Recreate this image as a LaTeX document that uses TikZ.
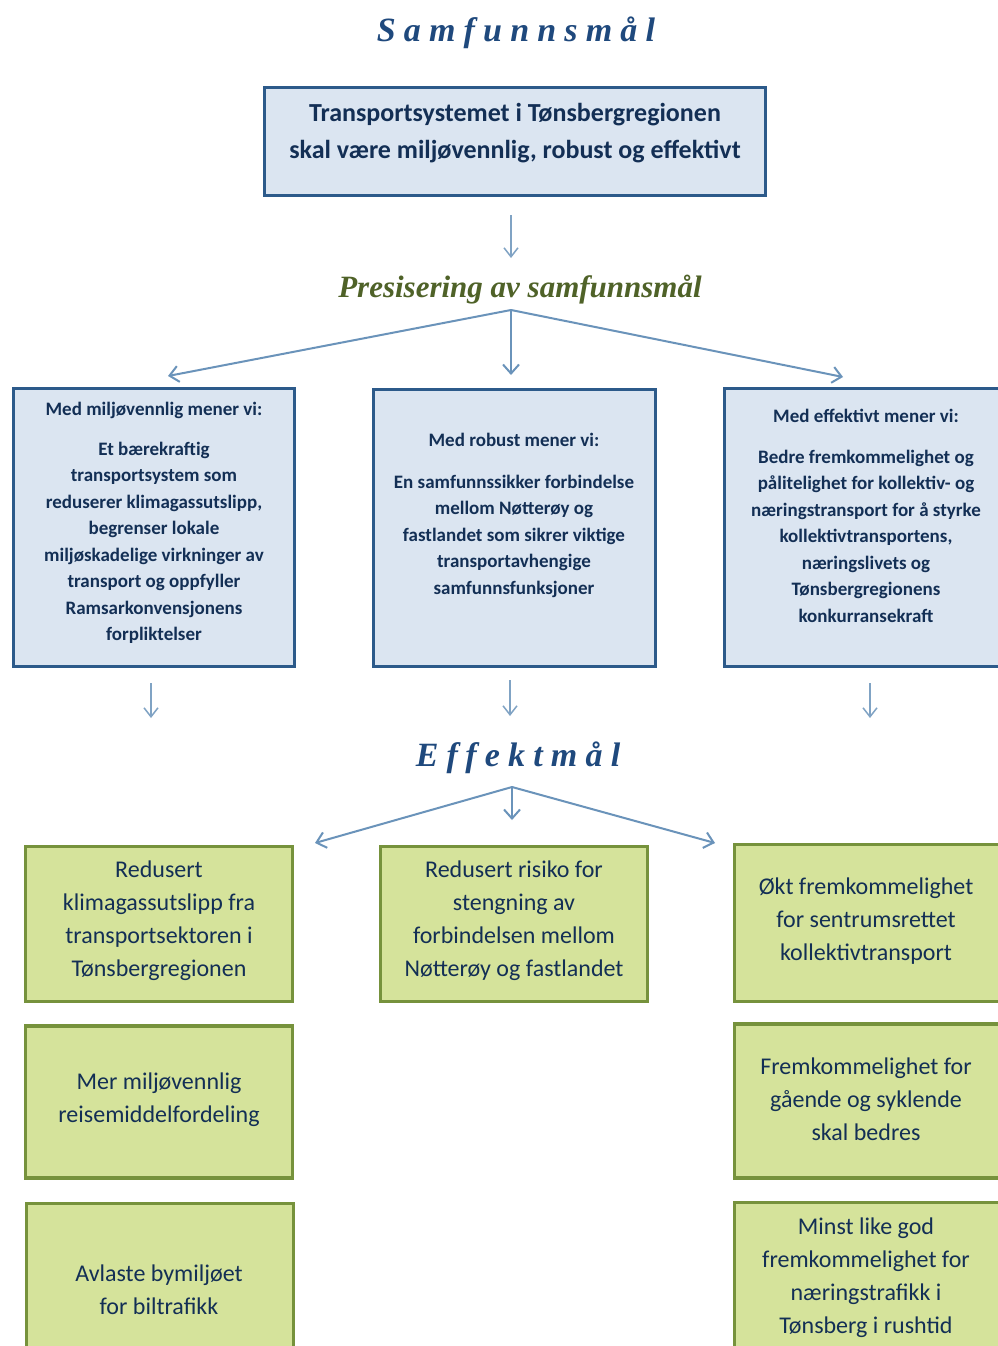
\documentclass[tikz,border=0pt]{standalone}
\usepackage{fontspec}
\setmainfont{Carlito}
\newfontfamily\headfont[LetterSpace=24]{Liberation Serif}
\newfontfamily\subfont{Liberation Serif}
\usetikzlibrary{arrows.meta}
\definecolor{titleblue}{HTML}{1F497D}
\definecolor{olivetxt}{HTML}{4F6228}
\definecolor{boxfill}{HTML}{DBE5F1}
\definecolor{boxline}{HTML}{2C5A8A}
\definecolor{navytxt}{HTML}{132F55}
\definecolor{greenfill}{HTML}{D5E39B}
\definecolor{greenline}{HTML}{76923C}
\definecolor{arrowblue}{HTML}{6A93BA}
\begin{document}
\begin{tikzpicture}[x=1pt,y=-1pt,
 bluebox/.style={draw=boxline,line width=3.5pt,fill=boxfill,inner sep=0pt},
 greenbox/.style={draw=greenline,line width=3.5pt,fill=greenfill,inner sep=0pt},
 bluetext/.style={text=navytxt,align=center,font=\bfseries\fontsize{19}{26.5}\selectfont,inner sep=0pt},
 greentext/.style={text=navytxt,align=center,font=\fontsize{24}{33}\selectfont,inner sep=0pt},
 headtext/.style={text=titleblue,font=\headfont\bfseries\itshape\fontsize{34}{38}\selectfont,inner sep=0pt},
 fork/.style={draw=arrowblue,line width=2pt,-{Straight Barb[length=9pt,width=16pt]}},
 downarr/.style={draw=arrowblue!85,line width=1.5pt,-{Straight Barb[length=9pt,width=14pt]}},
]
\clip (0,0) rectangle (998,1346);
\fill[white] (0,0) rectangle (998,1346);

% headings
\node[headtext] (title) at (516,33) {Samfunnsmål};
\node[text=olivetxt,font=\subfont\bfseries\itshape\fontsize{31}{36}\selectfont,inner sep=0pt] (pres) at (520,290) {Presisering av samfunnsmål};
\node[headtext] (effekt) at (518,758) {Effektmål};

% top box
\node[bluebox,minimum width=501pt,minimum height=108pt] (top) at (515,141.5) {};
\node[text=navytxt,align=center,font=\bfseries\fontsize{26}{37}\selectfont,inner sep=0pt] (toptxt) at (515,133.5)
 {Transportsystemet i Tønsbergregionen\\skal være miljøvennlig, robust og effektivt};

% blue boxes
\node[bluebox,minimum width=281pt,minimum height=278pt] (lb) at (154,527.5) {};
\node[bluebox,minimum width=282pt,minimum height=277pt] (mb) at (514.5,528) {};
\node[bluebox,minimum width=283pt,minimum height=278pt] (rb) at (866,527.5) {};

\node[bluetext] (lbt) at (154,523) {Med miljøvennlig mener vi:\\[13.5pt]
 Et bærekraftig\\transportsystem som\\reduserer klimagassutslipp,\\begrenser lokale\\miljøskadelige virkninger av\\transport og oppfyller\\Ramsarkonvensjonens\\forpliktelser};
\node[bluetext] (mbt) at (514,515) {Med robust mener vi:\\[15.5pt]
 En samfunnssikker forbindelse\\mellom Nøtterøy og\\fastlandet som sikrer viktige\\transportavhengige\\samfunnsfunksjoner};
\node[bluetext] (rbt) at (866,515.5) {Med effektivt mener vi:\\[14.5pt]
 Bedre fremkommelighet og\\pålitelighet for kollektiv- og\\næringstransport for å styrke\\kollektivtransportens,\\næringslivets og\\Tønsbergregionens\\konkurransekraft};

% green boxes
\node[greenbox,minimum width=267pt,minimum height=155pt] (gl1) at (159,924) {};
\node[greenbox,minimum width=267pt,minimum height=155pt] (gm1) at (514,924) {};
\node[greenbox,minimum width=267pt,minimum height=157pt] (gr1) at (868,923) {};
\node[greenbox,minimum width=267pt,minimum height=152pt] (gl2) at (159,1102) {};
\node[greenbox,minimum width=267pt,minimum height=154pt] (gr2) at (868,1101) {};
\node[greenbox,minimum width=267pt,minimum height=155pt] (gl3) at (160,1281) {};
\node[greenbox,minimum width=267pt,minimum height=155pt] (gr3) at (868,1280) {};

\node[greentext] (gl1t) at (159,921) {Redusert\\klimagassutslipp fra\\transportsektoren i\\Tønsbergregionen};
\node[greentext] (gm1t) at (514,921) {Redusert risiko for\\stengning av\\forbindelsen mellom\\Nøtterøy og fastlandet};
\node[greentext] (gr1t) at (866,921) {Økt fremkommelighet\\for sentrumsrettet\\kollektivtransport};
\node[greentext] (gl2t) at (159,1099.5) {Mer miljøvennlig\\reisemiddelfordeling};
\node[greentext] (gr2t) at (866,1099) {Fremkommelighet for\\gående og syklende\\skal bedres};
\node[greentext] (gl3t) at (159,1290) {Avlaste bymiljøet\\for biltrafikk};
\node[greentext] (gr3t) at (866,1278) {Minst like god\\fremkommelighet for\\næringstrafikk i\\Tønsberg i rushtid};

% connectors
\coordinate (a0s) at (511,215);
\coordinate (a0e) at (511,258);
\draw[downarr] (a0s) -- (a0e);

\coordinate (f1) at (511,310);
\coordinate (f1l) at (168,376);
\coordinate (f1m) at (511,375);
\coordinate (f1r) at (843,377);
\draw[fork] (f1) -- (f1l);
\draw[fork] (f1) -- (f1m);
\draw[fork] (f1) -- (f1r);

\coordinate (dls) at (151,683); \coordinate (dle) at (151,718);
\coordinate (dms) at (510,680); \coordinate (dme) at (510,716);
\coordinate (drs) at (870,683); \coordinate (dre) at (870,718);
\draw[downarr] (dls) -- (dle);
\draw[downarr] (dms) -- (dme);
\draw[downarr] (drs) -- (dre);

\coordinate (f2) at (512,787);
\coordinate (f2l) at (315,843);
\coordinate (f2m) at (512,820);
\coordinate (f2r) at (715,843);
\draw[fork] (f2) -- (f2l);
\draw[fork] (f2) -- (f2m);
\draw[fork] (f2) -- (f2r);
\end{tikzpicture}
\end{document}
